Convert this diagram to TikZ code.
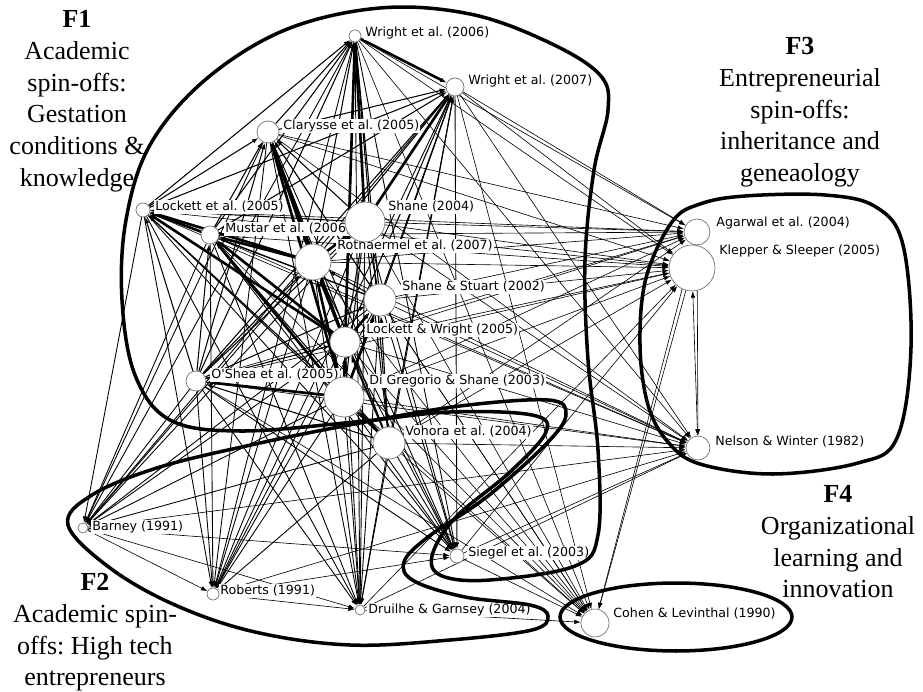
\documentclass[tikz,border=0pt]{standalone}
\usepackage{fontspec}
\setmainfont{Liberation Serif}
\newfontfamily\citefont{DejaVu Sans}
\usetikzlibrary{arrows.meta,backgrounds}

\tikzset{
	paper/.style={circle,draw=black!55,fill=white,line width=0.4pt,inner sep=0pt,minimum size=#1*0.04cm},
	tag/.style={right,fill=white,inner sep=0.6pt,font=\citefont\fontsize{7.2}{8}\selectfont\frenchspacing},
	factor/.style={align=center,inner sep=0pt,font=\fontsize{14.8}{18.1}\selectfont\frenchspacing},
	cluster/.style={line width=2pt},
	cite/.style={-{Latex[length=3.6pt,width=2.6pt]},line width=0.6pt},
	thincite/.style={cite,line width=0.35pt},
	heavycite/.style={cite,line width=1.5pt},
}

\begin{document}
\begin{tikzpicture}[x=0.02cm,y=-0.02cm]

	\useasboundingbox (0,0) rectangle (923,692);

	\node[factor,anchor=north] (f1) at (77,10) {\textbf{F1}\\Academic\\spin-offs:\\Gestation\\conditions \&\\knowledge};
	\node[factor,anchor=north] (f2) at (95,573) {\textbf{F2}\\Academic spin-\\offs: High tech\\entrepreneurs};
	\node[factor,anchor=north] (f3) at (800,37) {\textbf{F3}\\Entrepreneurial\\spin-offs:\\inheritance and\\geneaology};
	\node[factor,anchor=north] (f4) at (838,485) {\textbf{F4}\\Organizational\\learning and\\innovation};

	\node[tag] (w06t) at (364,33) {Wright et al. (2006)};
	\node[tag] (w07t) at (467,81) {Wright et al. (2007)};
	\node[tag] (clat) at (282,126) {Clarysse et al. (2005)};
	\node[tag] (lo05t) at (154,207) {Lockett et al. (2005)};
	\node[tag] (must) at (224,229) {Mustar et al. (2006)};
	\node[tag] (shat) at (387,207) {Shane (2004)};
	\node[tag] (rott) at (336,246) {Rothaermel et al. (2007)};
	\node[tag] (shst) at (401,287) {Shane \& Stuart (2002)};
	\node[tag] (lwt) at (365,330) {Lockett \& Wright (2005)};
	\node[tag] (osht) at (210,375) {O\textquotesingle Shea et al. (2005)};
	\node[tag] (dgst) at (368,381) {Di Gregorio \& Shane (2003)};
	\node[tag] (voht) at (404,432) {Vohora et al. (2004)};
	\node[tag] (agat) at (715,223) {Agarwal et al. (2004)};
	\node[tag] (klet) at (718,251) {Klepper \& Sleeper (2005)};
	\node[tag] (nelt) at (714,442) {Nelson \& Winter (1982)};
	\node[tag] (bart) at (91,527) {Barney (1991)};
	\node[tag] (robt) at (219,591) {Roberts (1991)};
	\node[tag] (drut) at (367,610) {Druilhe \& Garnsey (2004)};
	\node[tag] (siet) at (467,553) {Siegel et al. (2003)};
	\node[tag] (coht) at (612,614) {Cohen \& Levinthal (1990)};

	\node[paper=6] (w06) at (355,36) {};
	\node[paper=9] (w07) at (455,87) {};
	\node[paper=11] (cla) at (268,132) {};
	\node[paper=7] (lo05) at (143,210) {};
	\node[paper=9] (mus) at (210,235) {};
	\node[paper=20] (sha) at (365,222) {};
	\node[paper=18] (rot) at (313,262) {};
	\node[paper=16] (shs) at (380,300) {};
	\node[paper=15] (lw) at (345,342) {};
	\node[paper=10] (osh) at (196,381) {};
	\node[paper=20] (dgs) at (344,397) {};
	\node[paper=16] (voh) at (389,443) {};
	\node[paper=13] (aga) at (697,232) {};
	\node[paper=23] (kle) at (692,268) {};
	\node[paper=12] (nel) at (698,448) {};
	\node[paper=5] (bar) at (83,528) {};
	\node[paper=6] (rob) at (213,594) {};
	\node[paper=5] (dru) at (360,610) {};
	\node[paper=7] (sie) at (457,556) {};
	\node[paper=14] (coh) at (595,623) {};

	\begin{scope}[on background layer]
		\foreach \s/\ts in {voh/{w06,w07,cla,lo05,sha,mus,rot,shs,lw,osh,dgs},
				dgs/{w06,w07,cla,lo05,sha,mus,rot,shs,lw,osh},
				osh/{w06,w07,cla,lo05,sha,mus,rot,shs,lw},
				lw/{w06,w07,cla,lo05,sha,mus,rot,shs},
				shs/{w06,w07,cla,lo05,sha,mus,rot},
				rot/{w06,w07,cla,lo05,sha,mus},
				mus/{w06,w07,cla,lo05,sha},
				sha/{w06,w07,cla,lo05},
				lo05/{w06,w07,cla},
				cla/{w06,w07}}
			\foreach \t in \ts
				\draw[cite] (\s) -- (\t);
		\foreach \s/\t in {sha/w06,lw/w06,rot/cla,dgs/cla,rot/mus,mus/lo05,rot/lo05,rot/sha,lw/rot,dgs/rot,lw/shs,dgs/shs,dgs/lw,voh/dgs,lw/mus,dgs/osh,sha/w07,lw/cla,w06/w07,lw/lo05,dgs/mus}
			\draw[heavycite] (\s) -- (\t);
		\foreach \s in {w06,w07,cla,lo05,sha,mus,rot,shs,lw,osh,dgs,voh}
			\foreach \t in {bar,rob,dru,sie}
				\draw[cite,line width=0.5pt] (\s) -- (\t);
		\foreach \s in {w06,w07,cla,lo05,sha,mus,rot,shs,lw,osh,dgs,voh}
			\foreach \t in {aga,kle,nel}
				\draw[thincite] (\s) -- (\t);
		\foreach \s/\t in {sie/kle,sie/nel,dru/nel,dru/kle,rob/nel,bar/nel,w06/coh,w07/coh,cla/coh,mus/coh,rot/coh,sha/coh,shs/coh,lw/coh,osh/coh,dgs/coh,voh/coh,sie/coh,dru/coh,kle/coh,aga/coh,aga/nel,bar/rob,rob/dru,bar/dru,bar/sie,rob/sie}
			\draw[thincite] (\s) -- (\t);
		\draw[thincite,{Latex[length=3.6pt,width=2.6pt]}-{Latex[length=3.6pt,width=2.6pt]}] (kle) -- (nel);
	\end{scope}

	\draw[cluster] plot[smooth cycle,tension=0.6] coordinates {(122,300) (126,220) (150,145) (205,80) (285,30) (380,8) (470,14) (548,42) (600,75) (608,110) (594,170) (585,260) (588,360) (598,450) (598,535) (575,566) (490,580) (442,576) (432,556) (455,518) (510,472) (546,432) (532,415) (450,412) (355,422) (240,431) (170,420) (135,375)};
	\draw[cluster] plot[smooth cycle,tension=0.6] coordinates {(68,525) (92,495) (160,467) (260,443) (360,423) (460,406) (548,400) (566,414) (548,442) (488,496) (428,537) (404,562) (414,581) (465,597) (530,605) (548,616) (532,630) (450,640) (350,645) (255,632) (175,605) (110,568)};
	\draw[cluster] plot[smooth cycle,tension=0.6] coordinates {(672,222) (700,204) (745,196) (825,195) (876,207) (903,245) (911,347) (897,438) (858,463) (773,474) (700,464) (668,442) (648,405) (640,345) (646,278)};
	\draw[cluster] (676,617) ellipse [x radius=2.32cm,y radius=0.68cm];

\end{tikzpicture}
\end{document}
